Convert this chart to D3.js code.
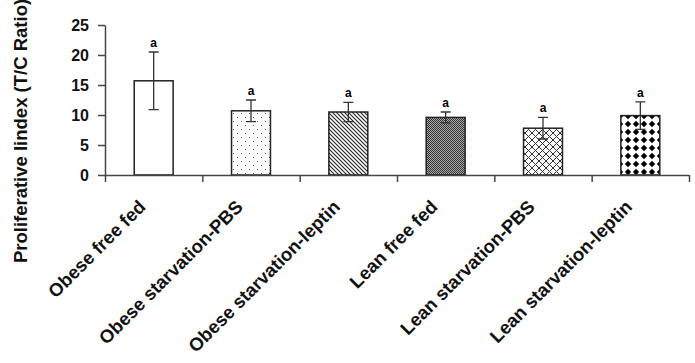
<!DOCTYPE html>
<html>
<head>
<meta charset="utf-8">
<script src="https://cdn.jsdelivr.net/npm/d3@7"></script>
<style>
  body { margin: 0; background: #fff; }
  svg { display: block; font-family: Arial, "Liberation Sans", sans-serif; }
</style>
</head>
<body>
<svg id="svg_chart" width="695" height="363"></svg>
<script>

// data
const categories = ['Obese free fed', 'Obese starvation-PBS', 'Obese starvation-leptin',
  'Lean free fed', 'Lean starvation-PBS', 'Lean starvation-leptin'];
const values = [15.7, 10.7, 10.5, 9.6, 7.8, 9.9];
const errors = [4.8, 1.8, 1.6, 0.9, 1.8, 2.3];
const letters = ['a', 'a', 'a', 'a', 'a', 'a'];
const yTicks = [0, 5, 10, 15, 20, 25];
const patterns = ['white', 'dots', 'diag', 'checker', 'cross', 'diamonds'];

const svg = d3.select('#svg_chart');

const padLeft = 105,
  padRight = 6,
  padTop = 25,
  height = 363,
  width = 695,
  axisY = 175;

// scales
const x = d3.scaleBand()
  .domain(categories)
  .range([padLeft, width - padRight])
  .paddingInner(0.6)
  .paddingOuter(0.3);

const slot = d3.scaleLinear()
  .domain([0, categories.length])
  .range([padLeft, width - padRight]);

const y = d3.scaleLinear()
  .domain([0, 25])
  .range([axisY, padTop]);

// fill patterns
const defs = svg.append('defs');

let p = defs.append('pattern').attr('id', 'dots')
  .attr('width', 8).attr('height', 8).attr('patternUnits', 'userSpaceOnUse');
p.append('rect').attr('width', 8).attr('height', 8).attr('fill', '#fff');
p.append('rect').attr('x', 1).attr('y', 1).attr('width', 1).attr('height', 1).attr('fill', '#555');
p.append('rect').attr('x', 5).attr('y', 5).attr('width', 1).attr('height', 1).attr('fill', '#555');

p = defs.append('pattern').attr('id', 'diag')
  .attr('width', 4).attr('height', 4).attr('patternUnits', 'userSpaceOnUse');
p.append('rect').attr('width', 4).attr('height', 4).attr('fill', '#fff');
p.append('path').attr('d', 'M-1,-1L5,5M-1,3L1,5M3,-1L5,1')
  .attr('stroke', '#222').attr('stroke-width', 1.1);

p = defs.append('pattern').attr('id', 'checker')
  .attr('width', 2).attr('height', 2).attr('patternUnits', 'userSpaceOnUse');
p.append('rect').attr('width', 2).attr('height', 2).attr('fill', '#aaa');
p.append('rect').attr('width', 1).attr('height', 1).attr('fill', '#333');
p.append('rect').attr('x', 1).attr('y', 1).attr('width', 1).attr('height', 1).attr('fill', '#333');

p = defs.append('pattern').attr('id', 'cross')
  .attr('width', 7).attr('height', 7).attr('patternUnits', 'userSpaceOnUse');
p.append('rect').attr('width', 7).attr('height', 7).attr('fill', '#fff');
p.append('path').attr('d', 'M0,0L7,7M7,0L0,7')
  .attr('stroke', '#333').attr('stroke-width', 1);

p = defs.append('pattern').attr('id', 'diamonds')
  .attr('width', 8).attr('height', 8).attr('patternUnits', 'userSpaceOnUse');
p.append('rect').attr('width', 8).attr('height', 8).attr('fill', '#fff');
p.append('path').attr('d', 'M4,0.8L7.2,4L4,7.2L0.8,4Z').attr('fill', '#000');

// bars
svg.selectAll('.bar').data(values)
  .join('rect')
  .attr('class', 'bar')
  .attr('x', (d, i) => x(categories[i]))
  .attr('y', d => y(d))
  .attr('width', x.bandwidth())
  .attr('height', d => y(0) - y(d))
  .attr('fill', (d, i) => patterns[i] == 'white' ? '#fff' : `url(#${patterns[i]})`)
  .attr('stroke', '#222')
  .attr('stroke-width', 1.5);

// error bars
const cx = i => x(categories[i]) + x.bandwidth() / 2;
svg.selectAll('.err').data(values)
  .join('path')
  .attr('class', 'err')
  .attr('d', (d, i) => {
    const lo = y(d - errors[i]), hi = y(d + errors[i]), c = cx(i);
    return `M${c},${lo}V${hi}M${c - 5},${hi}H${c + 5}M${c - 5},${lo}H${c + 5}`;
  })
  .attr('fill', 'none')
  .attr('stroke', '#333')
  .attr('stroke-width', 1.3);

// significance letters
svg.selectAll('.letter').data(values)
  .join('text')
  .attr('class', 'letter')
  .attr('x', (d, i) => cx(i))
  .attr('y', (d, i) => y(d + errors[i]) - 5)
  .attr('text-anchor', 'middle')
  .style('font-size', '12px')
  .style('font-weight', 'bold')
  .text((d, i) => letters[i]);

// y axis
const yAxis = svg.append('g')
  .attr('transform', `translate(${padLeft},0)`)
  .call(d3.axisLeft(y).tickValues(yTicks).tickSize(7).tickSizeOuter(0).tickPadding(9));
yAxis.selectAll('line, path').attr('stroke', '#444').attr('stroke-width', 1.5);
yAxis.selectAll('text')
  .attr('fill', '#111')
  .style('font-size', '16px')
  .style('font-weight', 'bold')
  .style('font-family', 'Arial, "Liberation Sans", sans-serif');

// x axis
const xAxis = svg.append('g')
  .attr('transform', `translate(0,${axisY})`)
  .call(d3.axisBottom(slot).tickValues(d3.range(categories.length + 1)).tickSize(7).tickSizeOuter(0).tickFormat(''));
xAxis.selectAll('line, path').attr('stroke', '#444').attr('stroke-width', 1.5);

// category labels
svg.selectAll('.catLabel').data(categories)
  .join('text')
  .attr('class', 'catLabel')
  .attr('transform', d => `translate(${x(d) + x.bandwidth() / 2 - 7},${axisY + 33}) rotate(-45)`)
  .attr('text-anchor', 'end')
  .style('font-size', '18.5px')
  .style('font-weight', 'bold')
  .attr('fill', '#111')
  .text(d => d);

// y title
svg.append('text')
  .attr('transform', `translate(27,131) rotate(-90)`)
  .attr('text-anchor', 'middle')
  .style('font-size', '18.5px')
  .style('font-weight', 'bold')
  .attr('fill', '#111')
  .text('Proliferative Iindex (T/C Ratio)');

</script>
</body>
</html>
